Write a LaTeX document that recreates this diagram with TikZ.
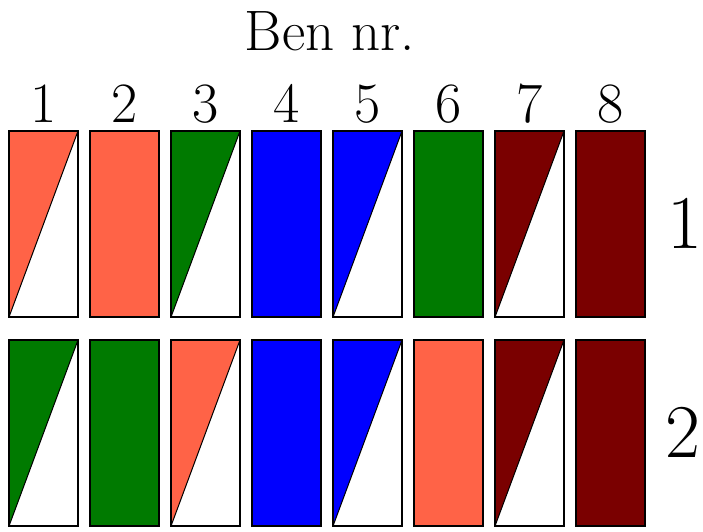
\documentclass[tikz,border=0pt]{standalone}
\definecolor{bntomato}{HTML}{FF6347}
\definecolor{bngreen}{HTML}{007A00}
\definecolor{bnblue}{HTML}{0000FF}
\definecolor{bnmaroon}{HTML}{7A0000}

% one leg box: left x, top y, colour, half (1) or full (0)
\newcommand{\legbox}[4]{%
  \ifnum#4=1
    \fill[#3] (#1,#2) -- ++(69,0) -- ++(-69,186) -- cycle;
    \draw[line width=1pt] (#1,#2+186) -- ++(69,-186);
  \else
    \fill[#3] (#1,#2) rectangle ++(69,186);
  \fi
  \draw[line width=1.3pt] (#1,#2) rectangle ++(69,186);}

\begin{document}
\begin{tikzpicture}[x=1pt, y=-1pt, every node/.style={font=\fontsize{57}{60}\selectfont, inner sep=0pt}]
  \useasboundingbox (0,0) rectangle (703,531);

  % Title
  \node[anchor=base] (title) at (330,50) {Ben nr.};

  % Columns: numbers and boxes for both rows
  \foreach \cA/\hA/\cB/\hB [count=\i] in {bntomato/1/bngreen/1, bntomato/0/bngreen/0,
      bngreen/1/bntomato/1, bnblue/0/bnblue/0, bnblue/1/bnblue/1,
      bngreen/0/bntomato/0, bnmaroon/1/bnmaroon/1, bnmaroon/0/bnmaroon/0}{
    \pgfmathsetmacro{\xl}{9+81*(\i-1)}
    \node[anchor=base] (num\i) at (\xl+34.5,122) {\i};
    \legbox{\xl}{131}{\cA}{\hA}
    \legbox{\xl}{340}{\cB}{\hB}
  }

  % Row labels
  \node[anchor=base, font=\fontsize{76}{80}\selectfont] (row1) at (685,248) {1};
  \node[anchor=base, font=\fontsize{76}{80}\selectfont] (row2) at (683,457) {2};
\end{tikzpicture}
\end{document}
